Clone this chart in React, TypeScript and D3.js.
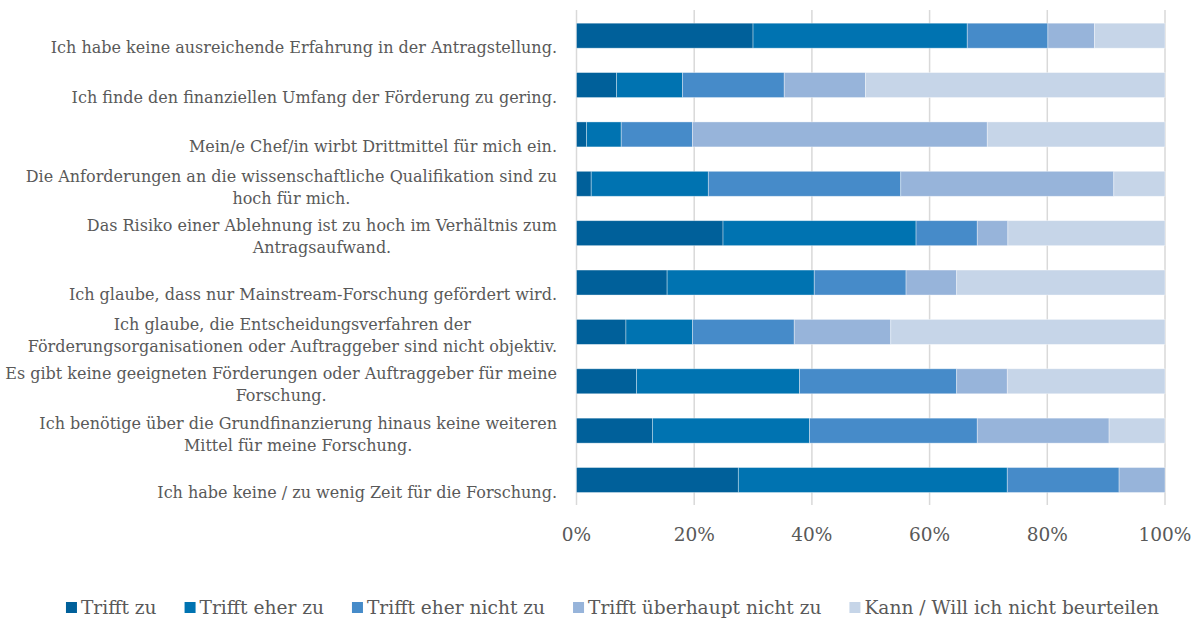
import React, { useEffect, useRef } from "react";
import * as d3 from "d3";

// categories (top to bottom), wrapped the way the original chart wraps them
const categories: string[][] = [
  ["Ich habe keine ausreichende Erfahrung in der Antragstellung."],
  ["Ich finde den finanziellen Umfang der Förderung zu gering."],
  ["Mein/e Chef/in wirbt Drittmittel für mich ein."],
  ["Die Anforderungen an die wissenschaftliche Qualifikation sind zu", "hoch für mich."],
  ["Das Risiko einer Ablehnung ist zu hoch im Verhältnis zum", "Antragsaufwand."],
  ["Ich glaube, dass nur Mainstream-Forschung gefördert wird."],
  ["Ich glaube, die Entscheidungsverfahren der", "Förderungsorganisationen oder Auftraggeber sind nicht objektiv."],
  ["Es gibt keine geeigneten Förderungen oder Auftraggeber für meine", "Forschung."],
  ["Ich benötige über die Grundfinanzierung hinaus keine weiteren", "Mittel für meine Forschung."],
  ["Ich habe keine / zu wenig Zeit für die Forschung."],
];

const seriesNames = [
  "Trifft zu",
  "Trifft eher zu",
  "Trifft eher nicht zu",
  "Trifft überhaupt nicht zu",
  "Kann / Will ich nicht beurteilen",
];

// shares in percent, one value per category
const trifftZu = [30.0, 6.8, 1.7, 2.5, 24.9, 15.4, 8.4, 10.2, 12.9, 27.5];
const trifftEherZu = [36.4, 11.2, 5.9, 19.9, 32.8, 25.0, 11.3, 27.7, 26.7, 45.7];
const trifftEherNichtZu = [13.7, 17.3, 12.1, 32.7, 10.4, 15.6, 17.3, 26.7, 28.5, 19.0];
const trifftUeberhauptNichtZu = [7.9, 13.8, 50.1, 36.2, 5.2, 8.6, 16.4, 8.6, 22.4, 7.8];
const kannNichtBeurteilen = [12.0, 50.9, 30.2, 8.7, 26.7, 35.4, 46.6, 26.8, 9.5, 0];

const xTicks = [0, 0.2, 0.4, 0.6, 0.8, 1];

const colors = ["#00609A", "#0073B1", "#468BC9", "#97B4DA", "#C6D5E8"];

const FONT = "'DejaVu Serif', Georgia, serif";
const TEXT = "#595959";

const App: React.FC = () => {
  const svgRef = useRef<SVGSVGElement | null>(null);
  const width = 1201;
  const height = 619;

  useEffect(() => {
    if (!svgRef.current) return;
    const svg = d3.select(svgRef.current);
    svg.selectAll("*").remove();

    const values = [
      trifftZu,
      trifftEherZu,
      trifftEherNichtZu,
      trifftUeberhauptNichtZu,
      kannNichtBeurteilen,
    ];
    const rows = categories.map((_, i) => {
      const r: Record<string, number> = { index: i };
      seriesNames.forEach((s, k) => (r[s] = values[k][i]));
      return r;
    });

    const stacked = d3
      .stack<Record<string, number>>()
      .keys(seriesNames)
      .offset(d3.stackOffsetExpand)(rows);

    const x = d3.scaleLinear().domain([0, 1]).range([576.5, 1165]);
    const y = d3
      .scaleBand<number>()
      .domain(d3.range(categories.length))
      .range([11, 504.7])
      .paddingInner(0.494)
      .paddingOuter(0.247);

    // gridlines
    svg
      .append("g")
      .selectAll("line")
      .data(xTicks)
      .join("line")
      .attr("x1", (d) => x(d))
      .attr("x2", (d) => x(d))
      .attr("y1", 10)
      .attr("y2", 505)
      .attr("stroke", "#D9D9D9")
      .attr("stroke-width", 1.5);

    // bars
    svg
      .append("g")
      .selectAll("g")
      .data(stacked)
      .join("g")
      .attr("fill", (_, k) => colors[k])
      .selectAll("rect")
      .data((d) => d)
      .join("rect")
      .attr("x", (d) => x(d[0]))
      .attr("width", (d) => Math.max(0, x(d[1]) - x(d[0])))
      .attr("y", (_, i) => y(i)!)
      .attr("height", y.bandwidth())
      .attr("stroke", "rgba(255,255,255,0.45)")
      .attr("stroke-width", 0.8);

    // category labels
    const labelRight = 557;
    const lab = svg
      .append("g")
      .attr("font-family", FONT)
      .attr("font-size", 16)
      .attr("fill", TEXT);
    categories.forEach((lines, i) => {
      const c = y(i)! + y.bandwidth() / 2;
      const g = lab.append("g");
      if (lines.length === 1) {
        g.append("text")
          .attr("x", labelRight)
          .attr("y", c + 12)
          .attr("dy", "0.35em")
          .attr("text-anchor", "end")
          .text(lines[0]);
      } else {
        const texts = lines.map((t, j) =>
          g
            .append("text")
            .attr("y", c + 3.5 + (j - 0.5) * 22)
            .attr("dy", "0.35em")
            .attr("text-anchor", "middle")
            .text(t)
        );
        const w = d3.max(texts, (t) => (t.node() as SVGTextElement).getComputedTextLength()) || 0;
        texts.forEach((t) => t.attr("x", labelRight - w / 2));
      }
    });

    // axis tick labels
    svg
      .append("g")
      .selectAll("text")
      .data(xTicks)
      .join("text")
      .attr("x", (d) => x(d))
      .attr("y", 541)
      .attr("text-anchor", "middle")
      .attr("font-family", FONT)
      .attr("font-size", 18.5)
      .attr("fill", TEXT)
      .text((d) => d3.format(".0%")(d));

    // legend
    const legend = svg.append("g").attr("font-family", FONT).attr("font-size", 18.6).attr("fill", TEXT);
    const items = seriesNames.map((name, k) => {
      const g = legend.append("g");
      g.append("rect").attr("width", 11).attr("height", 11).attr("y", 602).attr("fill", colors[k]);
      const t = g.append("text").attr("x", 15).attr("y", 614).text(name);
      return { g, w: 15 + (t.node() as SVGTextElement).getComputedTextLength() };
    });
    const gap = 28;
    const total = d3.sum(items, (d) => d.w) + gap * (items.length - 1);
    let cx = 612.5 - total / 2;
    items.forEach((it) => {
      it.g.attr("transform", `translate(${cx},0)`);
      cx += it.w + gap;
    });
  }, []);

  return (
    <svg
      ref={svgRef}
      width={width}
      height={height}
      style={{ position: "absolute", left: 0, top: 0, background: "#fff" }}
    />
  );
};

export default App;
